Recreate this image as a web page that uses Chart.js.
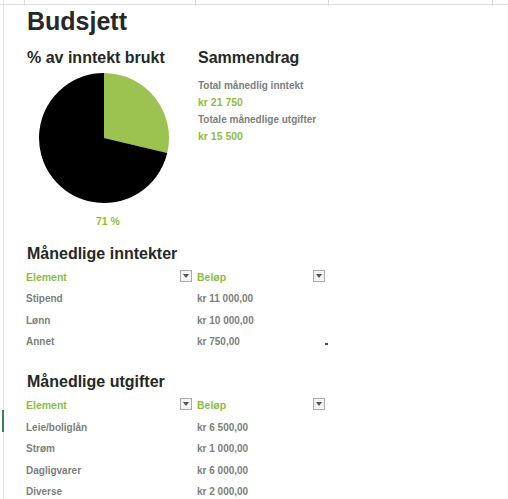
<!DOCTYPE html>
<html><head><meta charset="utf-8">
<script src="https://cdn.jsdelivr.net/npm/chart.js@4"></script>
<style>
body{margin:0;width:508px;height:499px;background:#fff;font-family:"Liberation Sans",Arial,sans-serif;position:relative;overflow:hidden}
.t{position:absolute;white-space:nowrap;transform:translateY(-50%);font-weight:bold}
.h1{font-size:25px;color:#262826}
.h2{font-size:16px;color:#262826}
.g{font-size:10px;color:#7b807b}
.gr{font-size:10.5px;color:#8fbc3f}
.dd{position:absolute;width:12px;height:12px;border:1px solid #aaa;background:#f4f4f4;box-sizing:border-box}
.dd:after{content:"";position:absolute;left:2px;top:3px;border-left:3.5px solid transparent;border-right:3.5px solid transparent;border-top:4px solid #555}
.vl{position:absolute;top:0;width:1px;height:6px;background:#ddd}
</style></head><body>
<div style="position:absolute;left:0;top:4px;width:508px;height:1px;background:#ddd"></div>
<div class="vl" style="left:24px"></div><div class="vl" style="left:195px"></div><div class="vl" style="left:328px"></div><div class="vl" style="left:492px"></div>
<div style="position:absolute;left:3px;top:0;width:1px;height:499px;background:#e4e4e4"></div>
<div style="position:absolute;left:2px;top:410px;width:2px;height:22px;background:#3f7f4f"></div>
<div id="wrap" style="position:absolute;left:37px;top:71px;width:134px;height:134px"><canvas id="c"></canvas></div>
<div id="txt"></div>
<script>
const pieLabels=["Gjenstår","Utgifter"];
const pieValues=[6250,15500];
const pieColors=["#9cc24f","#000000"];
const incomeItems=["Stipend","Lønn","Annet"];
const incomeAmounts=["kr 11 000,00","kr 10 000,00","kr 750,00"];
const expenseItems=["Leie/boliglån","Strøm","Dagligvarer","Diverse"];
const expenseAmounts=["kr 6 500,00","kr 1 000,00","kr 6 000,00","kr 2 000,00"];

const T=document.getElementById('txt');
function add(cls,x,y,s){const d=document.createElement('div');d.className='t '+cls;d.style.left=x+'px';d.style.top=y+'px';d.textContent=s;T.appendChild(d);}
function dd(x,y){const d=document.createElement('div');d.className='dd';d.style.left=x+'px';d.style.top=y+'px';T.appendChild(d);}
add('h1',27,21,'Budsjett');
add('h2',27,58,'% av inntekt brukt');
add('h2',198,58,'Sammendrag');
add('g',198,85,'Total månedlig inntekt');
add('gr',198,102,'kr 21 750');
add('g',198,119,'Totale månedlige utgifter');
add('gr',198,136,'kr 15 500');
add('gr',96,221,'71 %');
add('h2',27,254,'Månedlige inntekter');
add('gr',26,277,'Element');add('gr',197,277,'Beløp');dd(180,270);dd(313,270);
incomeItems.forEach((s,i)=>{add('g',26,298+i*21.5,s);add('g',197,298+i*21.5,incomeAmounts[i]);});
const m=document.createElement('div');m.style.cssText='position:absolute;left:325px;top:343px;width:3px;height:2px;background:#3344aa';T.appendChild(m);
add('h2',27,382,'Månedlige utgifter');
add('gr',26,405,'Element');add('gr',197,405,'Beløp');dd(180,398);dd(313,398);
expenseItems.forEach((s,i)=>{add('g',26,427+i*21.3,s);add('g',197,427+i*21.3,expenseAmounts[i]);});

new Chart(document.getElementById('c'),{type:'pie',
data:{labels:pieLabels,datasets:[{data:pieValues,backgroundColor:pieColors,borderWidth:0}]},
options:{responsive:true,maintainAspectRatio:false,animation:false,layout:{padding:2},
plugins:{legend:{display:false},tooltip:{enabled:false}}}});
</script></body></html>
